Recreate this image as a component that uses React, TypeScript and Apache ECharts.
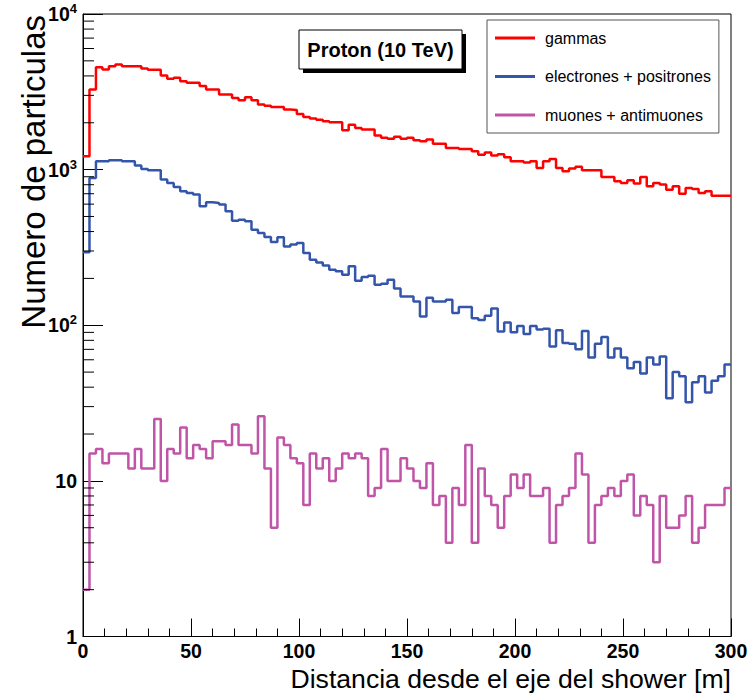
import React, { useEffect, useRef } from "react";
import * as echarts from "echarts";

// Histogram bins: 100 bins of 3 m from 0 to 300 m
const binWidth = 3;

const gammas = [
  1220, 3270, 4550, 4400, 4620, 4730, 4620, 4620, 4620, 4460,
  4380, 4380, 4020, 3830, 3890, 3700, 3610, 3610, 3440, 3270,
  3270, 3040, 3040, 2890, 2790, 2920, 2790, 2620, 2570, 2530,
  2530, 2430, 2420, 2280, 2180, 2130, 2090, 2045, 2015, 2015,
  1790, 1946, 1853, 1808, 1808, 1655, 1600, 1577, 1625, 1577,
  1600, 1545, 1522, 1560, 1469, 1469, 1378, 1378, 1358, 1358,
  1310, 1248, 1290, 1231, 1255, 1200, 1131, 1131, 1113, 1131,
  1025, 1131, 1169, 1025, 975, 1016, 1042, 990, 990, 990,
  898, 898, 841, 821, 853, 813, 898, 781, 821, 802,
  743, 781, 701, 762, 750, 708, 726, 680, 680, 680,
];

const electrons = [
  294, 884, 1131, 1131, 1148, 1148, 1131, 1131, 1061, 1010,
  990, 990, 863, 821, 774, 726, 708, 691, 581, 617,
  611, 596, 540, 470, 477, 466, 411, 391, 369, 343,
  367, 321, 330, 338, 291, 264, 253, 242, 227, 222,
  211, 239, 193, 204, 208, 182, 185, 196, 172, 153,
  153, 142, 114, 150, 142, 142, 146, 120, 131, 131,
  111, 108, 115, 128, 91, 104, 90, 99, 88, 99,
  94, 95, 73, 93, 77, 76, 70, 92, 62, 76,
  84, 62, 71, 62, 53, 58, 49, 62, 56, 63,
  34, 50, 47, 32, 43, 47, 37, 44, 47, 56,
];

const muons = [
  2, 15, 16, 13, 15, 15, 15, 12, 16, 12,
  12, 25, 10, 16, 15, 22, 14, 17, 16, 14,
  18, 18, 17, 23, 17, 17, 15, 26, 12, 5,
  19, 17, 14, 13, 7, 15, 12, 14, 10, 12,
  15, 14, 15, 14, 8, 9, 16, 10, 10, 14,
  12, 10, 9, 13, 7, 8, 4, 9, 7, 17,
  4, 12, 8, 7, 5, 8, 11, 9, 11, 8,
  8, 9, 4, 7, 8, 9, 15, 11, 4, 7,
  8, 9, 8, 10, 11, 6, 8, 7, 3, 8,
  5, 5, 6, 8, 4, 5, 7, 7, 7, 9,
];

const seriesNames = ["gammas", "electrones + positrones", "muones + antimuones"];
const seriesColors = ["#ff0000", "#3355aa", "#c055a8"];

const yMinorTicks = [
  2, 3, 4, 5, 6, 7, 8, 9,
  20, 30, 40, 50, 60, 70, 80, 90,
  200, 300, 400, 500, 600, 700, 800, 900,
  2000, 3000, 4000, 5000, 6000, 7000, 8000, 9000,
];

const xTitle = "Distancia desde el eje del shower [m]";
const yTitle = "Numero de particulas";
const boxTitle = "Proton (10 TeV)";

const FONT = '"Liberation Sans", Arial, Helvetica, sans-serif';

function toSteps(vals: number[]) {
  const d = vals.map((v, i) => [i * binWidth, v]);
  d.push([vals.length * binWidth, vals[vals.length - 1]]);
  return d;
}

export default function App() {
  const ref = useRef<HTMLDivElement>(null);

  useEffect(() => {
    if (!ref.current) return;
    const chart = echarts.init(ref.current, undefined, { renderer: "svg" });
    const hists = [gammas, electrons, muons];

    const option: any = {
      animation: false,
      backgroundColor: "#ffffff",
      grid: {
        left: 83,
        right: 20,
        top: 14,
        bottom: 63.5,
        show: true,
        borderColor: "#000",
        borderWidth: 1,
        backgroundColor: "transparent",
      },
      xAxis: {
        type: "value",
        min: 0,
        max: 300,
        interval: 50,
        axisLine: { show: true, lineStyle: { color: "#000", width: 1 } },
        axisTick: { show: true, inside: true, length: 18, lineStyle: { color: "#000" } },
        minorTick: { show: true, splitNumber: 5, length: 8, lineStyle: { color: "#000" } },
        splitLine: { show: false },
        minorSplitLine: { show: false },
        axisLabel: {
          margin: 4,
          color: "#000",
          fontSize: 19.5,
          fontWeight: "bold",
          fontFamily: FONT,
        },
      },
      yAxis: {
        type: "log",
        logBase: 10,
        min: 1,
        max: 10000,
        axisLine: { show: true, lineStyle: { color: "#000", width: 1 } },
        axisTick: { show: true, inside: true, length: 20, lineStyle: { color: "#000" } },
        minorTick: { show: false },
        splitLine: { show: false },
        axisLabel: {
          margin: 6,
          color: "#000",
          fontSize: 19.5,
          fontWeight: "bold",
          fontFamily: FONT,
          formatter: (v: number) => {
            const e = Math.round(Math.log10(v));
            if (e === 0) return "1";
            if (e === 1) return "10";
            return `{b|10}{s|${e}}`;
          },
          rich: {
            b: { fontSize: 19.5, fontWeight: "bold", fontFamily: FONT, color: "#000", lineHeight: 24 },
            s: { fontSize: 13, fontWeight: "bold", fontFamily: FONT, color: "#000", lineHeight: 12, verticalAlign: "top" },
          },
        },
      },
      legend: {
        data: seriesNames.map((n) => ({ name: n, icon: "rect" })),
        orient: "vertical",
        left: 487,
        top: 20,
        width: 233,
        padding: [10, 8, 10, 8],
        itemWidth: 40,
        itemHeight: 3,
        itemGap: 22.5,
        backgroundColor: "#fff",
        borderColor: "#555",
        borderWidth: 1,
        borderRadius: 0,
        textStyle: { fontSize: 16, fontFamily: FONT, color: "#000", lineHeight: 16, padding: [0, 0, 0, 5] },
      },
      series: [
        ...hists.map((h, i) => ({
          type: "line",
          name: seriesNames[i],
          data: toSteps(h),
          step: "end",
          symbol: "none",
          showSymbol: false,
          lineStyle: { color: seriesColors[i], width: 2.5 },
          itemStyle: { color: seriesColors[i] },
          z: 3,
        })),
        {
          type: "custom",
          name: "yminor",
          silent: true,
          z: 5,
          clip: false,
          data: yMinorTicks.map((v) => [0, v]),
          renderItem: (params: any, api: any) => {
            const p = api.coord([0, api.value(1)]);
            return {
              type: "line",
              shape: { x1: p[0], y1: p[1], x2: p[0] + 11, y2: p[1] },
              style: { stroke: "#000", lineWidth: 1 },
            };
          },
        },
      ],
      graphic: [
        {
          type: "rect",
          shape: { x: 303, y: 34, width: 163, height: 39 },
          style: { fill: "#000" },
          z: 10,
        },
        {
          type: "rect",
          shape: { x: 299, y: 30, width: 163, height: 39 },
          style: { fill: "#fff", stroke: "#000", lineWidth: 1 },
          z: 11,
        },
        {
          type: "text",
          x: 380.5,
          y: 49.5,
          z: 12,
          style: {
            text: boxTitle,
            fontSize: 20,
            fontWeight: "bold",
            fontFamily: FONT,
            fill: "#000",
            align: "center",
            verticalAlign: "middle",
            textAlign: "center",
            textVerticalAlign: "middle",
          },
        },
        {
          type: "text",
          x: 33,
          y: 15,
          rotation: Math.PI / 2,
          style: {
            text: yTitle,
            fontSize: 33,
            fontFamily: FONT,
            fill: "#000",
            align: "right",
            verticalAlign: "middle",
            textAlign: "right",
            textVerticalAlign: "middle",
          },
        },
        {
          type: "text",
          x: 731,
          y: 679,
          style: {
            text: xTitle,
            fontSize: 26.6,
            fontFamily: FONT,
            fill: "#000",
            align: "right",
            verticalAlign: "middle",
            textAlign: "right",
            textVerticalAlign: "middle",
          },
        },
      ],
    };

    chart.setOption(option);
    return () => chart.dispose();
  }, []);

  return (
    <div
      ref={ref}
      style={{ position: "absolute", left: 0, top: 0, width: 751, height: 700, background: "#fff" }}
    />
  );
}
